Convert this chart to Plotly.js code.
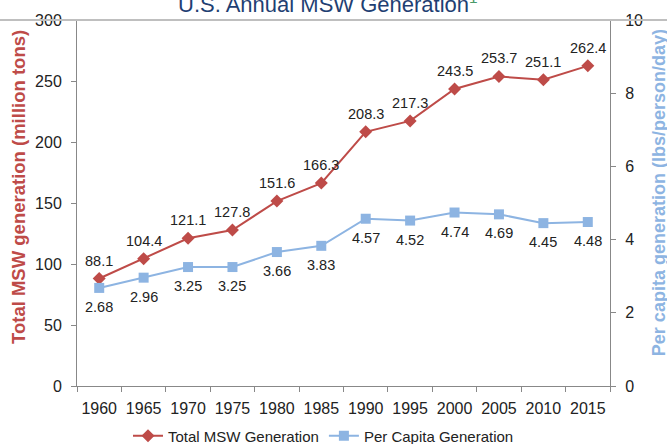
<!DOCTYPE html>
<html>
<head>
<meta charset="utf-8">
<script src="https://cdn.plot.ly/plotly-3.0.1.min.js"></script>
<style>html,body{margin:0;padding:0;background:#fff;}#chart{width:667px;height:444px;}</style>
</head>
<body>
<div id="chart"></div>
<script>
const years = ['1960','1965','1970','1975','1980','1985','1990','1995','2000','2005','2010','2015'];
const totalMSW = [88.1, 104.4, 121.1, 127.8, 151.6, 166.3, 208.3, 217.3, 243.5, 253.7, 251.1, 262.4];
const perCapita = [2.68, 2.96, 3.25, 3.25, 3.66, 3.83, 4.57, 4.52, 4.74, 4.69, 4.45, 4.48];
const totalLabels = totalMSW.map(v => v.toFixed(1));
const perCapitaLabels = perCapita.map(v => v.toFixed(2));

const red = '#be4b48';
const blue = '#8db4e2';
const font = 'Liberation Sans, Arial, sans-serif';

const data = [
  {
    x: years, y: totalMSW, name: 'Total MSW Generation', type: 'scatter',
    mode: 'lines+markers',
    line: {color: red, width: 2}, marker: {symbol: 'diamond', size: 10, color: red},
    yaxis: 'y', cliponaxis: false
  },
  {
    x: years, y: perCapita, name: 'Per Capita Generation', type: 'scatter',
    mode: 'lines+markers',
    line: {color: blue, width: 2}, marker: {symbol: 'square', size: 10, color: blue},
    yaxis: 'y2', cliponaxis: false
  }
];

// data labels placed through the category axis (index = category position)
const labelAnns = [];
years.forEach((yr, i) => {
  labelAnns.push({xref: 'x', yref: 'y', x: i, y: totalMSW[i], text: totalLabels[i], showarrow: false,
    xanchor: 'center', yanchor: 'middle', yshift: 18, font: {size: 14.5, color: '#222', family: font}});
  labelAnns.push({xref: 'x', yref: 'y2', x: i, y: perCapita[i], text: perCapitaLabels[i], showarrow: false,
    xanchor: 'center', yanchor: 'middle', yshift: -19, font: {size: 14.5, color: '#222', family: font}});
});

const layout = {
  width: 667, height: 444,
  margin: {l: 77, r: 57, t: 20, b: 58},
  paper_bgcolor: '#fff', plot_bgcolor: '#fff',
  font: {family: font, size: 16, color: '#222'},
  showlegend: true,
  legend: {orientation: 'h', xref: 'container', yref: 'container', x: 0.485, xanchor: 'center', y: 0.018, yanchor: 'middle',
    font: {size: 15, color: '#222'}},
  xaxis: {
    type: 'category', categoryorder: 'array', categoryarray: years, range: [-0.5, years.length - 0.5],
    showgrid: false, zeroline: false, automargin: false,
    showline: true, linecolor: '#888', linewidth: 1,
    ticks: 'outside', tickson: 'boundaries', ticklen: 5, tickcolor: '#888',
    ticklabelstandoff: 8, tickangle: 0,
    tickfont: {size: 16, color: '#222'}
  },
  yaxis: {
    range: [0, 300], dtick: 50, showgrid: false, zeroline: false, automargin: false,
    showline: true, linecolor: '#888', linewidth: 1,
    ticks: 'outside', ticklen: 5, tickcolor: '#888', ticklabelstandoff: 6,
    tickfont: {size: 16, color: '#222'}
  },
  yaxis2: {
    range: [0, 10], dtick: 2, overlaying: 'y', side: 'right', showgrid: false, zeroline: false, automargin: false,
    showline: true, linecolor: '#888', linewidth: 1,
    ticks: 'outside', ticklen: 5, tickcolor: '#888', ticklabelstandoff: 6,
    tickfont: {size: 16, color: '#222'}
  },
  shapes: [
    {type: 'line', xref: 'paper', yref: 'paper', x0: -0.2, x1: 1.2, y0: 1, y1: 1, line: {color: '#bfbfbf', width: 2}}
  ],
  annotations: [
    {xref: 'paper', yref: 'paper', x: 0.47, y: 1, yanchor: 'bottom', xanchor: 'center', yshift: 1, showarrow: false,
     text: 'U.S. Annual MSW Generation<sup style="color:#4a9a6a">1</sup>', font: {size: 22, color: '#1f3f73', family: font}},
    {xref: 'paper', yref: 'paper', x: -0.1107, y: 0.5437, xanchor: 'center', yanchor: 'middle', textangle: -90, showarrow: false,
     text: '<b>Total MSW generation (million tons)</b>', font: {size: 18.5, color: red, family: font}},
    {xref: 'paper', yref: 'paper', x: 1.092, y: 0.527, xanchor: 'center', yanchor: 'middle', textangle: -90, showarrow: false,
     text: '<b>Per capita generation (lbs/person/day)</b>', font: {size: 18, color: blue, family: font}}
  ].concat(labelAnns)
};

Plotly.newPlot('chart', data, layout, {displayModeBar: false, staticPlot: true});
</script>
</body>
</html>
